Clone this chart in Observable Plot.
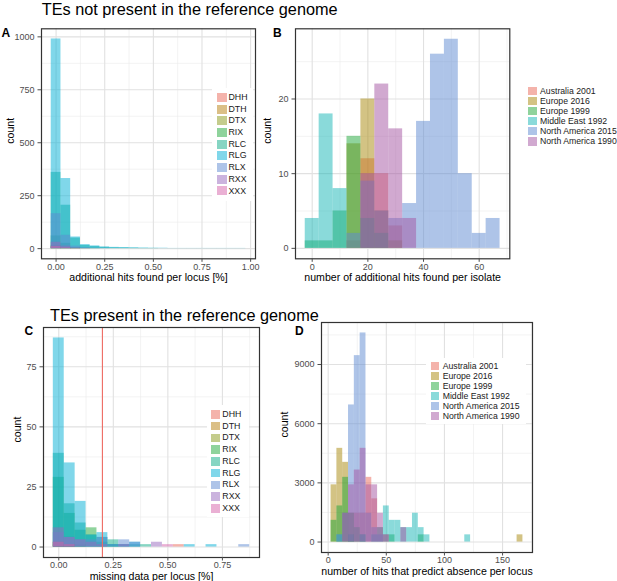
<!DOCTYPE html>
<html>
<head>
<meta charset="utf-8">
<script src="https://cdn.jsdelivr.net/npm/d3@7"></script>
<script src="https://cdn.jsdelivr.net/npm/@observablehq/plot@0.6"></script>
<style>
  html, body { margin: 0; padding: 0; background: #ffffff; }
  #fig { position: relative; width: 617px; height: 581px; overflow: hidden; background: #fff;
         font-family: "Liberation Sans", Arial, Helvetica, sans-serif; }
  .txt { position: absolute; white-space: nowrap; line-height: 1; color: #000; }
  .legend { position: absolute; background: #fff; }
  .legend .sw { position: absolute; opacity: 0.5; }
  .legend .lab { position: absolute; white-space: nowrap; line-height: 1; color: #1a1a1a; }
</style>
</head>
<body>
<div id="fig"></div>
<script>
// ---------------- DATA ----------------
// TE superfamilies (panels A and C)
const teTypes  = ["DHH", "DTH", "DTX", "RIX", "RLC", "RLG", "RLX", "RXX", "XXX"];
const teColors = ["#E96757", "#B77F0D", "#899919", "#1FA739", "#0DAB87", "#01AFD5", "#5D89D1", "#9767BD", "#D561A9"];

// Populations (panels B and D)
const populations = ["Australia 2001", "Europe 2016", "Europe 1999", "Middle East 1992", "North America 2015", "North America 1990"];
const popColors   = ["#E96757", "#A78709", "#1FA739", "#15B5B5", "#5D89D1", "#A353A1"];

// Panel A: additional hits found per locus [%] (bin centres, width 0.05)
const binsA = [0, 0.05, 0.10, 0.15, 0.20, 0.25, 0.30, 0.35, 0.40, 0.45, 0.50, 0.55, 0.60, 0.65, 0.70, 0.75, 0.80, 0.85, 0.90, 0.95];
const countsA = [
  /* DHH */ [15, 6, 2, 1, 0, 0, 0, 0, 0, 0, 0, 0, 0, 0, 0, 0, 0, 0, 0, 0],
  /* DTH */ [8, 3, 1, 0, 0, 0, 0, 0, 0, 0, 0, 0, 0, 0, 0, 0, 0, 0, 0, 0],
  /* DTX */ [12, 4, 1, 0, 0, 0, 0, 0, 0, 0, 0, 0, 0, 0, 0, 0, 0, 0, 0, 0],
  /* RIX */ [60, 25, 5, 2, 1, 0, 0, 0, 0, 0, 0, 0, 0, 0, 0, 0, 0, 0, 0, 0],
  /* RLC */ [360, 205, 50, 15, 10, 6, 4, 3, 2, 1, 1, 0, 0, 0, 0, 0, 0, 0, 0, 0],
  /* RLG */ [990, 331, 55, 19, 13, 8, 6, 5, 4, 3, 2, 2, 1, 1, 1, 1, 1, 1, 1, 1],
  /* RLX */ [165, 63, 12, 4, 2, 1, 0, 0, 0, 0, 0, 0, 0, 0, 0, 0, 0, 0, 0, 0],
  /* RXX */ [30, 12, 3, 1, 0, 0, 0, 0, 0, 0, 0, 0, 0, 0, 0, 0, 0, 0, 0, 0],
  /* XXX */ [10, 4, 1, 0, 0, 0, 0, 0, 0, 0, 0, 0, 0, 0, 0, 0, 0, 0, 0, 0]
];

// Panel B: number of additional hits found per isolate (bin centres, width 5)
const binsB = [0, 5, 10, 15, 20, 25, 30, 35, 40, 45, 50, 55, 60, 65];
const countsB = [
  /* Australia 2001 */     [0, 0, 0, 1, 12, 10, 3, 0, 0, 0, 0, 0, 0, 0],
  /* Europe 2016 */        [0, 0, 0, 14, 20, 5, 1, 0, 0, 0, 0, 0, 0, 0],
  /* Europe 1999 */        [1, 1, 5, 15, 4, 2, 0, 0, 0, 0, 0, 0, 0, 0],
  /* Middle East 1992 */   [4, 18, 8, 0, 0, 0, 0, 0, 0, 0, 0, 0, 0, 0],
  /* North America 2015 */ [0, 0, 0, 2, 9, 5, 4, 6, 17, 26, 28, 10, 2, 4],
  /* North America 1990 */ [0, 0, 0, 0, 10, 22, 16, 4, 0, 0, 0, 0, 0, 0]
];

// Panel C: missing data per locus [%] (bin centres, width 0.05)
const binsC = [0, 0.05, 0.10, 0.15, 0.20, 0.25, 0.30, 0.35, 0.40, 0.45, 0.50, 0.55, 0.60, 0.65, 0.70, 0.75, 0.80, 0.85];
const countsC = [
  /* DHH */ [2, 1, 0, 0, 0, 0, 0, 0, 0, 0, 0, 1, 0, 0, 0, 0, 0, 0],
  /* DTH */ [1, 1, 0, 0, 0, 0, 0, 0, 0, 0, 0, 0, 0, 0, 0, 0, 0, 0],
  /* DTX */ [2, 1, 1, 0, 0, 0, 0, 0, 0, 0, 0, 0, 0, 0, 0, 0, 0, 0],
  /* RIX */ [29, 14, 7, 8, 2, 1, 0, 0, 0, 0, 0, 0, 0, 0, 0, 0, 0, 0],
  /* RLC */ [39, 18, 10, 5, 4, 3, 1, 1, 1, 0, 0, 0, 0, 0, 0, 0, 0, 0],
  /* RLG */ [87, 35, 19, 5, 6, 1, 1, 2, 0, 0, 0, 0, 1, 0, 1, 0, 0, 0],
  /* RLX */ [6, 4, 3, 3, 4, 1, 3, 2, 0, 0, 0, 0, 0, 0, 0, 0, 0, 1],
  /* RXX */ [8, 4, 3, 2, 1, 0, 1, 0, 0, 2, 0, 0, 0, 0, 0, 0, 0, 0],
  /* XXX */ [2, 1, 0, 0, 0, 0, 0, 0, 0, 0, 1, 0, 0, 0, 0, 0, 0, 0]
];
const missingThreshold = 0.2;

// Panel D: number of hits that predict absence per locus (bin centres, width 5)
const binsD = [5, 10, 15, 20, 25, 30, 35, 40, 45, 50, 55, 60, 65, 70, 75, 80, 85, 90, 95, 100,
               105, 110, 115, 120, 125, 130, 135, 140, 145, 150, 155, 160, 165];
const countsD = [
  /* Australia 2001 */     [0, 0, 0, 1460, 1460, 1460, 3280, 2190, 730, 365, 0, 0, 0, 0, 0, 0, 0, 0, 0, 0, 0, 0, 0, 0, 0, 0, 0, 0, 0, 0, 0, 0, 0],
  /* Europe 2016 */        [2900, 4750, 4040, 365, 0, 0, 0, 0, 0, 0, 0, 0, 0, 0, 0, 0, 0, 0, 0, 0, 0, 0, 0, 0, 0, 0, 0, 0, 0, 0, 0, 0, 365],
  /* Europe 1999 */        [1100, 1830, 3280, 1460, 730, 365, 0, 0, 0, 0, 365, 0, 0, 0, 0, 365, 0, 0, 0, 0, 0, 0, 0, 0, 0, 0, 0, 0, 0, 0, 0, 0, 0],
  /* Middle East 1992 */   [0, 365, 0, 365, 0, 365, 0, 365, 730, 1830, 1100, 1100, 730, 730, 1460, 730, 365, 0, 0, 0, 0, 0, 0, 365, 0, 0, 0, 0, 0, 0, 0, 0, 0],
  /* North America 2015 */ [0, 365, 1460, 6950, 9450, 10600, 1460, 730, 365, 0, 0, 0, 0, 0, 0, 0, 0, 0, 0, 0, 0, 0, 0, 0, 0, 0, 0, 0, 0, 0, 0, 0, 0],
  /* North America 1990 */ [0, 0, 1460, 2900, 3650, 4750, 2900, 2900, 1460, 365, 0, 0, 730, 0, 0, 0, 0, 0, 0, 0, 0, 0, 0, 0, 0, 0, 0, 0, 0, 0, 0, 0, 0]
];

// ---------------- DRAWING ----------------
const FONT = '"Liberation Sans", Arial, Helvetica, sans-serif';
const fig = document.getElementById("fig");

function histRows(groups, bins, counts, width) {
  const rows = [];
  counts.forEach((arr, gi) => arr.forEach((c, j) => {
    if (c > 0) rows.push({group: groups[gi], x1: bins[j] - width / 2, x2: bins[j] + width / 2, count: c});
  }));
  return rows;
}

function panel(cfg) {
  const rows = histRows(cfg.groups, cfg.bins, cfg.counts, cfg.binWidth);
  const svg = Plot.plot({
    width: cfg.width, height: cfg.height,
    marginLeft: cfg.ml, marginRight: cfg.mr, marginTop: cfg.mt, marginBottom: cfg.mb,
    x: {domain: cfg.xDomain},
    y: {domain: cfg.yDomain},
    color: {domain: cfg.groups, range: cfg.colors},
    style: {fontFamily: FONT, fontSize: "9px", color: "#4d4d4d", background: "transparent", overflow: "visible"},
    marks: [
      Plot.gridX(cfg.xMinor, {stroke: "#ebebeb", strokeOpacity: 1, strokeWidth: 0.6}),
      Plot.gridY(cfg.yMinor, {stroke: "#ebebeb", strokeOpacity: 1, strokeWidth: 0.6}),
      Plot.gridX(cfg.xTicks, {stroke: "#e1e1e1", strokeOpacity: 1, strokeWidth: 1.1}),
      Plot.gridY(cfg.yTicks, {stroke: "#e1e1e1", strokeOpacity: 1, strokeWidth: 1.1}),
      Plot.rect(rows, {x1: "x1", x2: "x2", y1: 0, y2: "count", fill: "group", fillOpacity: 0.5}),
      ...(cfg.extra || []),
      Plot.frame({stroke: "#333333", strokeWidth: 1.2}),
      Plot.axisX(cfg.xTicks, {tickSize: 3.5, tickPadding: 1, tickFormat: cfg.xFormat, label: null}),
      Plot.axisY(cfg.yTicks, {tickSize: 3.5, tickPadding: 3.5, tickFormat: cfg.yFormat, label: null}),
      Plot.text([cfg.xLabel], {text: d => d, frameAnchor: "bottom", dy: cfg.xLabelDy, lineAnchor: "bottom",
                               fontSize: 10.6, fill: "#000"}),
      Plot.text(["count"], {text: d => d, frameAnchor: "left", dx: cfg.yLabelDx, rotate: -90, lineAnchor: "bottom",
                            fontSize: 10.6, fill: "#000"})
    ]
  });
  svg.style.position = "absolute";
  svg.style.left = cfg.left + "px";
  svg.style.top = cfg.top + "px";
  fig.appendChild(svg);
}

function addText(str, left, baseline, size, weight) {
  const d = document.createElement("div");
  d.className = "txt";
  d.textContent = str;
  d.style.left = left + "px";
  d.style.top = (baseline - 0.8465 * size) + "px";
  d.style.fontSize = size + "px";
  if (weight) d.style.fontWeight = weight;
  fig.appendChild(d);
}

function addLegend(o) {
  const box = document.createElement("div");
  box.className = "legend";
  Object.assign(box.style, {left: o.left + "px", top: o.top + "px", width: o.width + "px", height: o.height + "px"});
  o.labels.forEach((lab, i) => {
    const cy = o.y0 + i * o.pitch - o.top;
    const sw = document.createElement("div");
    sw.className = "sw";
    Object.assign(sw.style, {left: (o.swX - o.left) + "px", top: (cy - o.swH / 2) + "px",
                             width: o.swW + "px", height: o.swH + "px", background: o.colors[i]});
    const t = document.createElement("div");
    t.className = "lab";
    t.textContent = lab;
    Object.assign(t.style, {left: (o.textX - o.left) + "px", top: (cy - o.fs / 2) + "px", fontSize: o.fs + "px"});
    box.appendChild(sw);
    box.appendChild(t);
  });
  fig.appendChild(box);
}

const f2 = d3.format(".2f");
const fint = d => String(d);

// Panel A
panel({
  left: 0, top: 20, width: 262, height: 272, ml: 41, mr: 7, mt: 8.3, mb: 33.7,
  groups: teTypes, colors: teColors, bins: binsA, counts: countsA, binWidth: 0.05,
  xDomain: [-0.075, 1.025], yDomain: [-48, 1038],
  xTicks: [0, 0.25, 0.5, 0.75, 1], xMinor: [0.125, 0.375, 0.625, 0.875],
  yTicks: [0, 250, 500, 750, 1000], yMinor: [125, 375, 625, 875],
  xFormat: f2, yFormat: fint,
  xLabel: "additional hits found per locus [%]", xLabelDy: 22.3, yLabelDx: -27.5
});

// Panel B
panel({
  left: 262, top: 20, width: 254, height: 272, ml: 33, mr: 6.7, mt: 8.3, mb: 33.7,
  groups: populations, colors: popColors, bins: binsB, counts: countsB, binWidth: 5,
  xDomain: [-6, 71], yDomain: [-1.4, 29.4],
  xTicks: [0, 20, 40, 60], xMinor: [10, 30, 50, 70],
  yTicks: [0, 10, 20], yMinor: [5, 15, 25],
  xFormat: fint, yFormat: fint,
  xLabel: "number of additional hits found per isolate", xLabelDy: 22.3, yLabelDx: -25
});

// Panel C
panel({
  left: 0, top: 318, width: 266, height: 263, ml: 43, mr: 7, mt: 9, mb: 24,
  groups: teTypes, colors: teColors, bins: binsC, counts: countsC, binWidth: 0.05,
  xDomain: [-0.07, 0.92], yDomain: [-4.35, 91.35],
  xTicks: [0, 0.25, 0.5, 0.75], xMinor: [0.125, 0.375, 0.625, 0.875],
  yTicks: [0, 25, 50, 75], yMinor: [12.5, 37.5, 62.5, 87.5],
  xFormat: f2, yFormat: fint,
  xLabel: "missing data per locus [%]", xLabelDy: 22.6, yLabelDx: -23,
  extra: [Plot.ruleX([missingThreshold], {stroke: "#EE6A62", strokeWidth: 1.1})]
});

// Panel D
panel({
  left: 266, top: 313, width: 272, height: 268, ml: 55, mr: 6, mt: 9, mb: 29,
  groups: populations, colors: popColors, bins: binsD, counts: countsD, binWidth: 5,
  xDomain: [-5.75, 175.75], yDomain: [-530, 11130],
  xTicks: [0, 50, 100, 150], xMinor: [25, 75, 125, 175],
  yTicks: [0, 3000, 6000, 9000], yMinor: [1500, 4500, 7500, 10500],
  xFormat: fint, yFormat: fint,
  xLabel: "number of hits that predict absence per locus", xLabelDy: 22.6, yLabelDx: -33.5
});

// Titles and panel letters
addText("TEs not present in the reference genome", 41.7, 15, 16.3);
addText("TEs present in the reference genome", 50, 320.7, 16.3);
addText("A", 1.5, 36.7, 12, "bold");
addText("B", 273, 36.7, 12, "bold");
addText("C", 24.5, 335, 12, "bold");
addText("D", 295, 335, 12, "bold");

// Legends
addLegend({labels: teTypes, colors: teColors, left: 212, top: 88, width: 41, height: 113,
           swX: 217.3, swW: 9.4, swH: 9, textX: 228.5, y0: 97.3, pitch: 11.7, fs: 8.8});
addLegend({labels: populations, colors: popColors, left: 524, top: 84, width: 93, height: 64,
           swX: 528, swW: 9.3, swH: 8.6, textX: 540, y0: 91, pitch: 10.05, fs: 8.7});
addLegend({labels: teTypes, colors: teColors, left: 207, top: 405, width: 42, height: 112,
           swX: 211, swW: 8.5, swH: 8.6, textX: 222.3, y0: 414.3, pitch: 11.75, fs: 8.8});
addLegend({labels: populations, colors: popColors, left: 426, top: 358, width: 100, height: 66,
           swX: 430.7, swW: 8.6, swH: 8.6, textX: 442.7, y0: 366, pitch: 10, fs: 8.7});
</script>
</body>
</html>
